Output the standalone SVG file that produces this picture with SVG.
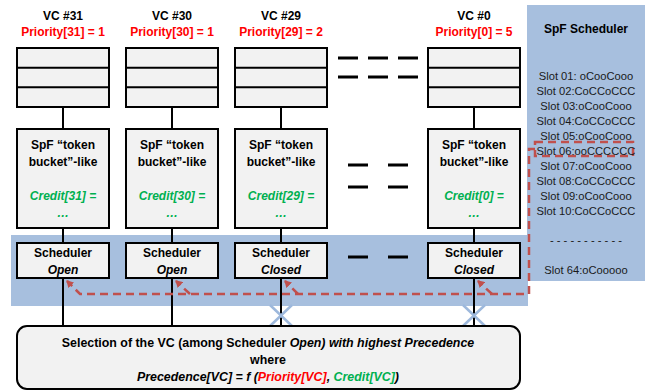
<svg xmlns="http://www.w3.org/2000/svg" width="654" height="391" viewBox="0 0 654 391">
<defs>
<style>
text{font-family:"Liberation Sans",Arial,sans-serif;text-anchor:middle}
.b{font-weight:bold;font-size:12px;fill:#000}
.pr{font-weight:bold;font-size:12px;fill:#FF0000}
.cr{font-weight:bold;font-style:italic;font-size:12px;fill:#00B050}
.it{font-style:italic}
.slot{font-size:11.2px;fill:#1a1a1a}
.sel{font-size:12.4px;font-weight:bold;fill:#000}
.box{fill:#F2F2F2;stroke:#000;stroke-width:2}
.ln{stroke:#000;stroke-width:2;fill:none}
.dash{stroke:#000;stroke-width:3;fill:none}
.red{stroke:#C0504D;stroke-width:2.5;fill:none;stroke-dasharray:8,5}
.x{stroke:#9DB8DC;stroke-width:2.5;fill:none}
.bg{fill:#A7BFDE}
</style>
<marker id="ah" markerWidth="8" markerHeight="8" refX="6" refY="4" orient="auto" markerUnits="userSpaceOnUse">
<path d="M0,0 L7,4 L0,8 Z" fill="#C0504D"/>
</marker>
</defs>

<g id="background">
<rect class="bg" x="11" y="235" width="517" height="71"/>
<rect class="bg" x="527" y="5" width="118" height="276"/>
</g>

<g id="connectors">
<line class="ln" x1="63" y1="107" x2="63" y2="129"/>
<line class="ln" x1="172" y1="107" x2="172" y2="129"/>
<line class="ln" x1="281" y1="107" x2="281" y2="129"/>
<line class="ln" x1="474" y1="107" x2="474" y2="129"/>
<line class="ln" x1="63" y1="228" x2="63" y2="243"/>
<line class="ln" x1="172" y1="228" x2="172" y2="243"/>
<line class="ln" x1="281" y1="228" x2="281" y2="243"/>
<line class="ln" x1="474" y1="228" x2="474" y2="243"/>
<line class="ln" x1="63" y1="278" x2="63" y2="326"/>
<line class="ln" x1="172" y1="278" x2="172" y2="326"/>
<line class="ln" x1="281" y1="278" x2="281" y2="326"/>
<line class="ln" x1="474" y1="278" x2="474" y2="326"/>
<path class="x" d="M270,305 L292,326 M292,305 L270,326"/>
<path class="x" d="M463,305 L485,326 M485,305 L463,326"/>
<path class="dash" d="M338,58 h20 M368,58 h20 M398,58 h20 M338,77 h20 M368,77 h20 M398,77 h20"/>
<path class="dash" d="M348,165 h20 M388,165 h20 M348,187 h20 M388,187 h20"/>
<path class="dash" d="M348,257 h20 M388,257 h20"/>
<rect class="red" x="535" y="142" width="98" height="14"/>
<path class="red" d="M535,149 H529 V294 H80 L67,281" marker-end="url(#ah)"/>
<path class="red" d="M190,294 L176,281" marker-end="url(#ah)"/>
<path class="red" d="M298,294 L285,281" marker-end="url(#ah)"/>
<path class="red" d="M492,294 L478,281" marker-end="url(#ah)"/>
</g>

<g id="vc31">
<text class="b" x="63" y="20">VC #31</text>
<text class="pr" x="63" y="36">Priority[31] = 1</text>
<rect class="box" x="17" y="48" width="92" height="59"/>
<path class="ln" d="M17,67.7 H109 M17,87.3 H109"/>
</g>
<g id="vc30">
<text class="b" x="172" y="20">VC #30</text>
<text class="pr" x="172" y="36">Priority[30] = 1</text>
<rect class="box" x="126" y="48" width="92" height="59"/>
<path class="ln" d="M126,67.7 H218 M126,87.3 H218"/>
</g>
<g id="vc29">
<text class="b" x="281" y="20">VC #29</text>
<text class="pr" x="281" y="36">Priority[29] = 2</text>
<rect class="box" x="235" y="48" width="92" height="59"/>
<path class="ln" d="M235,67.7 H327 M235,87.3 H327"/>
</g>
<g id="vc0">
<text class="b" x="474" y="20">VC #0</text>
<text class="pr" x="474" y="36">Priority[0] = 5</text>
<rect class="box" x="428" y="48" width="92" height="59"/>
<path class="ln" d="M428,67.7 H520 M428,87.3 H520"/>
</g>

<g id="tb31">
<rect class="box" x="17" y="129" width="92" height="99"/>
<text class="b" x="63" y="149">SpF “token</text>
<text class="b" x="63" y="166">bucket”-like</text>
<text class="cr" x="63" y="200">Credit[31] =</text>
<text class="cr" x="63" y="217">…</text>
</g>
<g id="tb30">
<rect class="box" x="126" y="129" width="92" height="99"/>
<text class="b" x="172" y="149">SpF “token</text>
<text class="b" x="172" y="166">bucket”-like</text>
<text class="cr" x="172" y="200">Credit[30] =</text>
<text class="cr" x="172" y="217">…</text>
</g>
<g id="tb29">
<rect class="box" x="235" y="129" width="92" height="99"/>
<text class="b" x="281" y="149">SpF “token</text>
<text class="b" x="281" y="166">bucket”-like</text>
<text class="cr" x="281" y="200">Credit[29] =</text>
<text class="cr" x="281" y="217">…</text>
</g>
<g id="tb0">
<rect class="box" x="428" y="129" width="92" height="99"/>
<text class="b" x="474" y="149">SpF “token</text>
<text class="b" x="474" y="166">bucket”-like</text>
<text class="cr" x="474" y="200">Credit[0] =</text>
<text class="cr" x="474" y="217">…</text>
</g>

<g id="sch31">
<rect class="box" x="17" y="243" width="92" height="35"/>
<text class="b" x="63" y="257">Scheduler</text>
<text class="b it" x="63" y="274">Open</text>
</g>
<g id="sch30">
<rect class="box" x="126" y="243" width="92" height="35"/>
<text class="b" x="172" y="257">Scheduler</text>
<text class="b it" x="172" y="274">Open</text>
</g>
<g id="sch29">
<rect class="box" x="235" y="243" width="92" height="35"/>
<text class="b" x="281" y="257">Scheduler</text>
<text class="b it" x="281" y="274">Closed</text>
</g>
<g id="sch0">
<rect class="box" x="428" y="243" width="92" height="35"/>
<text class="b" x="474" y="257">Scheduler</text>
<text class="b it" x="474" y="274">Closed</text>
</g>

<g id="spf-scheduler">
<text class="b" x="586" y="33">SpF Scheduler</text>
<text class="slot" x="586" y="79.5">Slot 01: oCooCooo</text>
<text class="slot" x="586" y="94.5">Slot 02:CoCCoCCC</text>
<text class="slot" x="586" y="109.5">Slot 03:oCooCooo</text>
<text class="slot" x="586" y="124.5">Slot 04:CoCCoCCC</text>
<text class="slot" x="586" y="139.5">Slot 05:oCooCooo</text>
<text class="slot" x="586" y="154.5">Slot 06:ooCCCCCC</text>
<text class="slot" x="586" y="169.5">Slot 07:oCooCooo</text>
<text class="slot" x="586" y="184.5">Slot 08:CoCCoCCC</text>
<text class="slot" x="586" y="199.5">Slot 09:oCooCooo</text>
<text class="slot" x="586" y="214.5">Slot 10:CoCCoCCC</text>
<text class="slot" x="586" y="243.5">- - - - - - - - - - -</text>
<text class="slot" x="586" y="274">Slot 64:oCooooo</text>
</g>

<g id="selection">
<rect class="box" x="17" y="326" width="503" height="63" rx="10"/>
<text class="sel" x="268" y="347">Selection of the VC (among Scheduler <tspan class="it">Open) with highest Precedence</tspan></text>
<text class="sel" x="268" y="364">where</text>
<text class="sel it" x="268" y="381">Precedence[VC] = f (<tspan fill="#FF0000">Priority[VC]</tspan>, <tspan fill="#00B050">Credit[VC]</tspan>)</text>
</g>
</svg>
